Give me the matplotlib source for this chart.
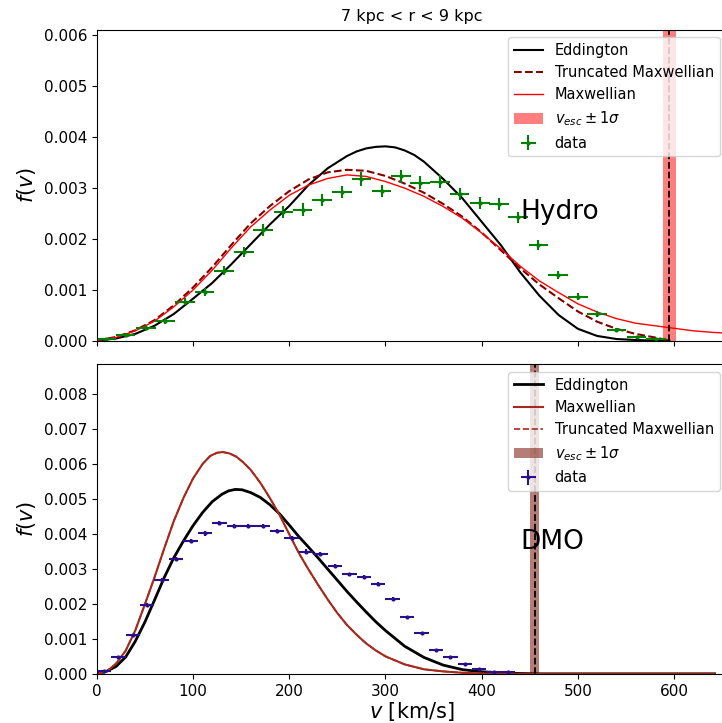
import matplotlib
matplotlib.use("Agg")
import matplotlib.pyplot as plt


# ============================================================
# Data (v in km/s, f(v) per km/s)
# ============================================================

# --- Hydro panel: binned data ---
hydro_v = [10, 30, 51, 71, 92, 112, 132, 153, 173, 194, 214, 234, 255, 275, 296,
           316, 336, 357, 377, 398, 418, 438, 459, 479, 500, 520, 540, 561, 581]
hydro_f = [0.00003, 0.00010, 0.000255, 0.00039, 0.00076, 0.00095, 0.00137, 0.00173,
           0.00217, 0.00252, 0.00257, 0.00276, 0.00292, 0.00317, 0.00294, 0.00322,
           0.00310, 0.00312, 0.00287, 0.00270, 0.00268, 0.00242, 0.00188, 0.00129,
           0.00086, 0.00052, 0.00021, 0.00007, 0.00003]
hydro_ferr = [0.00002, 0.00004, 0.00005, 0.00006, 0.00007, 0.00008, 0.00009, 0.00010,
              0.00011, 0.00011, 0.00012, 0.00012, 0.00012, 0.00013, 0.00012, 0.00013,
              0.00012, 0.00012, 0.00012, 0.00012, 0.00012, 0.00011, 0.00010, 0.00008,
              0.00007, 0.00005, 0.00004, 0.00002, 0.00002]
hydro_bin_half = 10.2

# --- Hydro panel: model curves ---
hydro_edd_v = [0, 20, 40, 60, 80, 100, 120, 140, 160, 180, 200, 220, 240, 260, 270,
               280, 290, 300, 310, 320, 330, 340, 360, 380, 400, 420, 440, 460, 480,
               500, 520, 540, 560, 580, 595]
hydro_edd_f = [0.0, 0.00004, 0.00013, 0.00029, 0.00052, 0.00082, 0.00113, 0.00150,
               0.00189, 0.00228, 0.00264, 0.00305, 0.00338, 0.00362, 0.00371, 0.00377,
               0.00380, 0.00381, 0.00379, 0.00373, 0.00364, 0.00351, 0.00317, 0.00279,
               0.00233, 0.00187, 0.00134, 0.00088, 0.00050, 0.00023, 0.00009, 0.00003,
               0.00001, 0.0, 0.0]

hydro_trunc_v = [0, 20, 40, 60, 80, 100, 120, 140, 160, 180, 200, 220, 240, 260, 280,
                 300, 320, 340, 360, 380, 400, 420, 440, 460, 480, 500, 520, 540, 560,
                 580, 595]
hydro_trunc_f = [0.0, 0.00007, 0.00020, 0.00040, 0.00069, 0.00104, 0.00144, 0.00188,
                 0.00230, 0.00264, 0.00293, 0.00316, 0.00330, 0.00335, 0.00333, 0.00323,
                 0.00308, 0.00290, 0.00268, 0.00243, 0.00212, 0.00177, 0.00142, 0.00110,
                 0.00083, 0.00057, 0.00037, 0.00023, 0.00013, 0.00006, 0.0]

hydro_maxw_v = [0, 20, 40, 60, 80, 100, 120, 140, 160, 180, 200, 220, 240, 260, 280,
                300, 320, 340, 360, 380, 400, 420, 440, 460, 480, 500, 520, 540, 560,
                580, 600, 620, 640, 660]
hydro_maxw_f = [0.0, 0.00006, 0.00019, 0.00038, 0.00066, 0.00099, 0.00138, 0.00182,
                0.00223, 0.00256, 0.00285, 0.00305, 0.00318, 0.00325, 0.00322, 0.00312,
                0.00299, 0.00283, 0.00263, 0.00240, 0.00211, 0.00180, 0.00146, 0.00117,
                0.00094, 0.00072, 0.00056, 0.00043, 0.00034, 0.00029, 0.00024, 0.00019,
                0.00016, 0.00014]

hydro_vesc = 595
hydro_vesc_sig = 7

# --- DMO panel: binned data ---
dmo_v = [7.5, 22.5, 37.5, 52.5, 67.5, 82.5, 97.5, 112.5, 127.5, 142.5, 157.5, 172.5,
         187.5, 202.5, 217.5, 232.5, 247.5, 262.5, 277.5, 292.5, 307.5, 322.5, 337.5,
         352.5, 367.5, 382.5, 397.5, 412.5, 427.5]
dmo_f = [0.00008, 0.00047, 0.00110, 0.00197, 0.00268, 0.00329, 0.00380, 0.00402,
         0.00433, 0.00423, 0.00423, 0.00423, 0.00410, 0.00390, 0.00350, 0.00343,
         0.00309, 0.00285, 0.00277, 0.00257, 0.00215, 0.00162, 0.00116, 0.00069,
         0.00048, 0.00028, 0.00014, 0.00006, 0.00004]
dmo_ferr = [0.00002, 0.00003, 0.00004, 0.00005, 0.00005, 0.00006, 0.00006, 0.00006,
            0.00006, 0.00006, 0.00006, 0.00006, 0.00006, 0.00006, 0.00006, 0.00006,
            0.00005, 0.00005, 0.00005, 0.00005, 0.00005, 0.00004, 0.00004, 0.00003,
            0.00003, 0.00002, 0.00002, 0.00001, 0.00001]
dmo_bin_half = 7.5

# --- DMO panel: model curves ---
dmo_edd_v = [0, 10, 20, 30, 40, 50, 60, 70, 80, 90, 100, 110, 120, 130, 137, 144, 151,
             160, 170, 180, 190, 200, 210, 220, 230, 240, 250, 260, 270, 280, 290, 300,
             320, 340, 360, 380, 400, 420, 440, 460, 500, 550, 600, 642]
dmo_edd_f = [0.0, 0.00007, 0.00021, 0.00048, 0.00093, 0.00148, 0.00211, 0.00275,
             0.00332, 0.00380, 0.00424, 0.00462, 0.00493, 0.00514, 0.00524, 0.00528,
             0.00527, 0.00519, 0.00505, 0.00484, 0.00458, 0.00426, 0.00393, 0.00363,
             0.00332, 0.00300, 0.00268, 0.00236, 0.00206, 0.00177, 0.00149, 0.00124,
             0.00079, 0.00047, 0.00025, 0.00012, 0.00006, 0.00003, 0.00001, 0.0, 0.0,
             0.0, 0.0, 0.0]

dmo_maxw_v = [0, 10, 20, 30, 40, 50, 60, 70, 80, 90, 100, 110, 118, 125, 131, 138, 145,
              152, 160, 170, 180, 190, 200, 210, 220, 230, 240, 250, 260, 270, 280, 290,
              300, 320, 340, 360, 380, 400, 420, 500, 550, 600, 642]
dmo_maxw_f = [0.0, 0.00006, 0.00029, 0.00066, 0.00124, 0.00199, 0.00276, 0.00358,
              0.00437, 0.00503, 0.00559, 0.00601, 0.00624, 0.00633, 0.00635, 0.00631,
              0.00622, 0.00606, 0.00584, 0.00547, 0.00503, 0.00455, 0.00400, 0.00346,
              0.00299, 0.00255, 0.00213, 0.00174, 0.00140, 0.00112, 0.00087, 0.00067,
              0.00050, 0.00027, 0.00013, 0.00007, 0.00003, 0.00001, 0.0, 0.0, 0.0, 0.0,
              0.0]

dmo_trunc_v = [0, 10, 20, 30, 40, 50, 60, 70, 80, 90, 100, 110, 118, 125, 131, 138, 145,
               152, 160, 170, 180, 190, 200, 210, 220, 230, 240, 250, 260, 270, 280, 290,
               300, 320, 340, 360, 380, 400, 420, 455]
dmo_trunc_f = [0.0, 0.00006, 0.00029, 0.00066, 0.00124, 0.00199, 0.00276, 0.00358,
               0.00437, 0.00503, 0.00559, 0.00601, 0.00624, 0.00633, 0.00635, 0.00631,
               0.00622, 0.00606, 0.00584, 0.00547, 0.00503, 0.00455, 0.00400, 0.00346,
               0.00299, 0.00255, 0.00213, 0.00174, 0.00140, 0.00112, 0.00087, 0.00067,
               0.00050, 0.00027, 0.00013, 0.00007, 0.00003, 0.00001, 0.0, 0.0]

dmo_vesc = 455
dmo_vesc_sig = 5


# ============================================================
# Figure
# ============================================================
fig = plt.figure(figsize=(7.22, 7.23), dpi=100)
ax1 = fig.add_axes([0.134, 0.529, 0.873, 0.430])
ax2 = fig.add_axes([0.134, 0.068, 0.873, 0.428], sharex=ax1)

# --- top: Hydro ---
ax1.plot(hydro_edd_v, hydro_edd_f, color="black", lw=1.5, label="Eddington")
ax1.plot(hydro_trunc_v, hydro_trunc_f, color="#800000", lw=1.5, ls="--",
         label="Truncated Maxwellian")
ax1.plot(hydro_maxw_v, hydro_maxw_f, color="red", lw=1.0, label="Maxwellian")
ax1.axvspan(hydro_vesc - hydro_vesc_sig, hydro_vesc + hydro_vesc_sig,
            color="red", alpha=0.5, lw=0, label=r"$v_{esc}\pm1\sigma$")
ax1.axvline(hydro_vesc, color="black", ls="--", lw=1.3)
ax1.errorbar(hydro_v, hydro_f, xerr=hydro_bin_half, yerr=hydro_ferr, fmt=".",
             color="green", ms=4, elinewidth=1.5, label="data")
ax1.text(440, 0.00253, "Hydro", fontsize=19, va="center")
ax1.set_ylim(0, 0.0061)
ax1.set_yticks([0.0, 0.001, 0.002, 0.003, 0.004, 0.005, 0.006])
ax1.set_ylabel(r"$f(v)$", fontsize=15)
ax1.set_title("7 kpc < r < 9 kpc", fontsize=11.5)
ax1.tick_params(labelsize=11, labelbottom=False)
ax1.legend(loc="upper right", fontsize=10.5)

# --- bottom: DMO ---
ax2.plot(dmo_edd_v, dmo_edd_f, color="black", lw=2.0, label="Eddington")
ax2.plot(dmo_maxw_v, dmo_maxw_f, color="#a52a1e", lw=1.5, label="Maxwellian")
ax2.plot(dmo_trunc_v, dmo_trunc_f, color="#a52a1e", lw=1.2, ls="--",
         label="Truncated Maxwellian")
ax2.axvspan(dmo_vesc - dmo_vesc_sig, dmo_vesc + dmo_vesc_sig,
            color="#82261a", alpha=0.6, lw=0, label=r"$v_{esc}\pm1\sigma$")
ax2.axvline(dmo_vesc, color="black", ls="--", lw=1.3)
ax2.errorbar(dmo_v, dmo_f, xerr=dmo_bin_half, yerr=dmo_ferr, fmt=".",
             color="#2a0f8a", ms=4, elinewidth=1.5, label="data")
ax2.text(440, 0.00378, "DMO", fontsize=19, va="center")
ax2.set_ylim(0, 0.00886)
ax2.set_yticks([0.0, 0.001, 0.002, 0.003, 0.004, 0.005, 0.006, 0.007, 0.008])
ax2.set_xlim(0, 655)
ax2.set_xticks([0, 100, 200, 300, 400, 500, 600])
ax2.set_ylabel(r"$f(v)$", fontsize=15)
ax2.set_xlabel(r"$v$ [km/s]", fontsize=15, labelpad=1)
ax2.tick_params(labelsize=11)
ax2.legend(loc="upper right", fontsize=10.5)

fig.savefig("out.png", dpi=100)
